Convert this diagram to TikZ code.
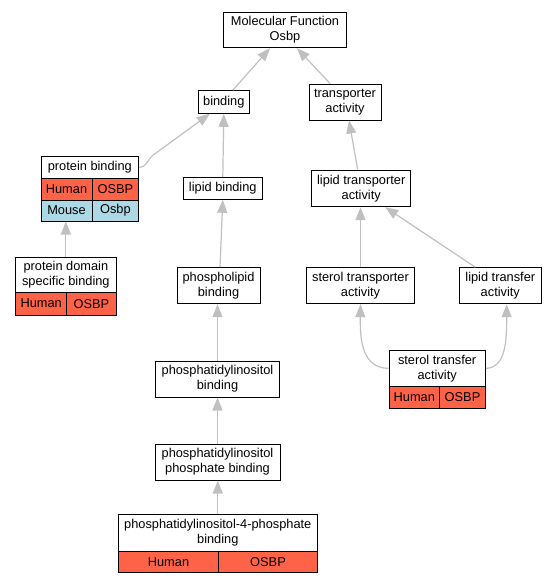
\documentclass[tikz,border=0pt]{standalone}
\usepackage{fontspec}
\setmainfont{Liberation Sans}
\usetikzlibrary{arrows.meta}
\definecolor{edgegray}{HTML}{C0C0C0}
\definecolor{tomatored}{HTML}{FF6347}
\definecolor{lblue}{HTML}{ADD8E6}
\tikzset{
  box/.style={draw=black, line width=1pt, fill=white, inner sep=0pt, align=center,
              font=\fontsize{12.8}{15}\selectfont},
  redcell/.style={box, fill=tomatored},
  bluecell/.style={box, fill=lblue},
  edge/.style={draw=edgegray, line width=1.2pt, -{Triangle[length=13pt,width=10pt,fill=edgegray]}},
}
\begin{document}
\begin{tikzpicture}[x=1pt,y=-1pt]
\useasboundingbox (0,0) rectangle (556,584);
% nodes
\node[box, minimum width=123.4, minimum height=35.4] (mf) at (285,30) {Molecular Function\\Osbp};
\node[box, minimum width=51, minimum height=22.6] (bind) at (223.8,102) {binding};
\node[box, minimum width=72, minimum height=36] (trans) at (345,102) {transporter\\activity};
% protein binding
\node[box, minimum width=97.7, minimum height=22.7] (pb) at (89.85,167.35) {protein binding};
\node[redcell, minimum width=51, minimum height=21.3] (pbh) at (66.5,189.35) {Human};
\node[redcell, minimum width=46.7, minimum height=21.3] (pbo) at (115.35,189.35) {OSBP};
\node[bluecell, minimum width=51, minimum height=21] (pbm) at (66.5,210.5) {Mouse};
\node[bluecell, minimum width=46.7, minimum height=21] (pbmo) at (115.35,210.5) {Osbp};
\node[box, minimum width=79, minimum height=22] (lb) at (222.8,188.3) {lipid binding};
% protein domain specific binding
\node[box, minimum width=100.3, minimum height=35] (pds) at (65.85,274.8) {protein domain\\specific binding};
\node[redcell, minimum width=51, minimum height=22.7] (pdsh) at (41.2,303.65) {Human};
\node[redcell, minimum width=49.3, minimum height=22.7] (pdso) at (91.35,303.65) {OSBP};
\node[box, minimum width=83, minimum height=36] (plb) at (218.5,285.7) {phospholipid\\binding};
\node[box, minimum width=99, minimum height=36.7] (ltr) at (361.2,188.35) {lipid transporter\\activity};
\node[box, minimum width=108.4, minimum height=36] (str) at (360.5,285.7) {sterol transporter\\activity};
\node[box, minimum width=82, minimum height=36] (ltf) at (500.3,285.7) {lipid transfer\\activity};
% sterol transfer activity
\node[box, minimum width=96.3, minimum height=35.3] (stf) at (437.15,368.35) {sterol transfer\\activity};
\node[redcell, minimum width=50.7, minimum height=22] (stfh) at (414.35,397) {Human};
\node[redcell, minimum width=45.6, minimum height=22] (stfo) at (462.5,397) {OSBP};
\node[box, minimum width=123.6, minimum height=36] (pib) at (217.5,379) {phosphatidylinositol\\binding};
\node[box, minimum width=125, minimum height=36] (pipb) at (217.5,462) {phosphatidylinositol\\phosphate binding};
% PI4P
\node[box, minimum width=199, minimum height=37.7] (pi4p) at (217.8,532.85) {phosphatidylinositol-4-phosphate\\binding};
\node[redcell, minimum width=100.4, minimum height=21] (pi4ph) at (168.5,562.2) {Human};
\node[redcell, minimum width=98.6, minimum height=21] (pi4po) at (268,562.2) {OSBP};
% edges
\draw[edge] ([xshift=9pt]bind.north) -- ([xshift=-15pt]mf.south);
\draw[edge] ([xshift=-15pt]trans.north) -- ([xshift=12pt]mf.south);
\draw[edge] (pb.east) .. controls (148,167) and (147,158) .. (156,153) -- ([xshift=-14pt]bind.south);
\draw[edge] (lb.north) -- (bind.south);
\draw[edge] (pds.north) -- (pds.north |- pbm.south);
\draw[edge] ([xshift=1.5pt]plb.north) -- (lb.south);
\draw[edge] (pib.north) -- (pib.north |- plb.south);
\draw[edge] (pipb.north) -- (pib.south);
\draw[edge] (pi4p.north) -- (pi4p.north |- pipb.south);
\draw[edge] ([xshift=-3.5pt]ltr.north) -- ([xshift=4pt]trans.south);
\draw[edge] (str.north) -- (str.north |- ltr.south);
\draw[edge] ([xshift=-25pt]ltf.north) -- ([xshift=24pt]ltr.south);
\draw[edge] (stf.west) .. controls (362,368) and (360,340) .. (str.south);
\draw[edge] (stf.east) .. controls (506,368) and (506.7,340) .. ([xshift=6.4pt]ltf.south);
\end{tikzpicture}
\end{document}
